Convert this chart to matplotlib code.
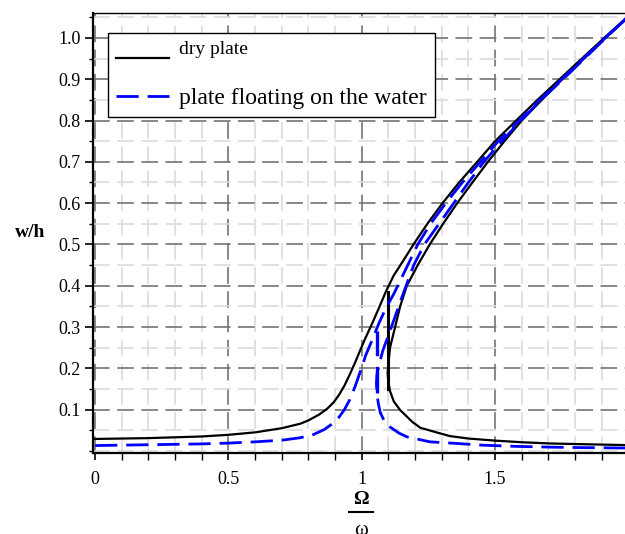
import numpy as np
import matplotlib.pyplot as plt
from matplotlib.lines import Line2D
from matplotlib.ticker import MultipleLocator, FixedLocator

# dry plate: upper (resonant) branch
dry_up_x = [0.0, 0.2, 0.4, 0.5, 0.6, 0.7, 0.77, 0.80, 0.84, 0.87, 0.895, 0.915, 0.935, 0.955,
            0.975, 0.995, 1.015, 1.04, 1.065, 1.09, 1.12, 1.155, 1.194, 1.246, 1.303, 1.365,
            1.433, 1.50, 1.579, 1.659, 1.742, 1.825, 1.909, 2.0]
dry_up_y = [0.029, 0.031, 0.035, 0.039, 0.045, 0.055, 0.066, 0.074, 0.088, 0.102, 0.118, 0.136, 0.158, 0.185,
            0.214, 0.245, 0.275, 0.31, 0.347, 0.385, 0.425, 0.46, 0.50, 0.55, 0.60, 0.65,
            0.70, 0.75, 0.80, 0.85, 0.90, 0.95, 1.00, 1.053]
# dry plate: unstable middle branch + lower branch
dry_lo_x = [2.0, 1.913, 1.833, 1.752, 1.675, 1.60, 1.535, 1.473, 1.415, 1.358, 1.305, 1.255, 1.21,
            1.169, 1.144, 1.125, 1.106, 1.100, 1.097, 1.099, 1.106, 1.12, 1.144, 1.19, 1.22,
            1.28, 1.33, 1.40, 1.50, 1.60, 1.71, 1.85, 2.0]
dry_lo_y = [1.05, 1.00, 0.95, 0.90, 0.85, 0.80, 0.75, 0.70, 0.65, 0.60, 0.55, 0.50, 0.45,
            0.40, 0.35, 0.30, 0.25, 0.21, 0.19, 0.17, 0.145, 0.12, 0.099, 0.07, 0.056,
            0.045, 0.036, 0.030, 0.025, 0.021, 0.018, 0.016, 0.014]
dry_jump_x = [1.097, 1.097]
dry_jump_y = [0.15, 0.385]

# plate floating on the water
wet_up_x = [0.0, 0.2, 0.4, 0.5, 0.6, 0.7, 0.77, 0.82, 0.86, 0.89, 0.915, 0.935, 0.955, 0.975,
            0.995, 1.015, 1.04, 1.065, 1.09, 1.12, 1.15, 1.18, 1.21, 1.258, 1.315, 1.377,
            1.445, 1.512, 1.59, 1.668, 1.75, 1.831, 1.913, 1.996]
wet_up_y = [0.013, 0.015, 0.017, 0.019, 0.022, 0.026, 0.032, 0.040, 0.052, 0.066, 0.082, 0.100, 0.124, 0.156,
            0.193, 0.232, 0.27, 0.31, 0.345, 0.38, 0.42, 0.46, 0.50, 0.55, 0.60, 0.65,
            0.70, 0.75, 0.80, 0.85, 0.90, 0.95, 1.00, 1.05]
wet_lo_x = [1.996, 1.915, 1.835, 1.755, 1.672, 1.597, 1.525, 1.458, 1.40, 1.345, 1.29, 1.235, 1.195,
            1.156, 1.125, 1.10, 1.08, 1.065, 1.057, 1.055, 1.057, 1.062, 1.07, 1.085, 1.106,
            1.14, 1.17, 1.256, 1.36, 1.45, 1.58, 1.72, 1.83, 2.0]
wet_lo_y = [1.05, 1.00, 0.95, 0.90, 0.85, 0.80, 0.75, 0.70, 0.65, 0.60, 0.55, 0.50, 0.45,
            0.382, 0.325, 0.28, 0.245, 0.21, 0.185, 0.165, 0.14, 0.115, 0.092, 0.072, 0.058,
            0.043, 0.034, 0.022, 0.018, 0.014, 0.011, 0.009, 0.008, 0.007]
wet_jump_x = [1.056, 1.056]
wet_jump_y = [0.14, 0.29]

plt.rcParams['font.family'] = 'Liberation Serif'

fig = plt.figure(figsize=(6.25, 5.34), dpi=100)
ax = fig.add_axes([0.1488, 0.1517, 0.8566, 0.824])

dash = (0, (8, 3.2))
ax.plot(dry_up_x, dry_up_y, color='black', lw=1.6, label='dry plate\n')
ax.plot(dry_lo_x, dry_lo_y, color='black', lw=1.6)
ax.plot(dry_jump_x, dry_jump_y, color='black', lw=2.2)
ax.plot(wet_up_x, wet_up_y, color='#0000ff', lw=2, linestyle=dash, label='plate floating on the water')
ax.plot(wet_lo_x, wet_lo_y, color='#0000ff', lw=2, linestyle=dash)
ax.plot(wet_jump_x, wet_jump_y, color='#0000ff', lw=2.4, linestyle=dash)

ax.set_xlim(-0.008, 2.0)
ax.set_ylim(-0.005, 1.0605)

ax.xaxis.set_major_locator(FixedLocator([0, 0.5, 1, 1.5, 2]))
ax.set_xticklabels(['0', '0.5', '1', '1.5', '2'])
ax.xaxis.set_minor_locator(MultipleLocator(0.1))
yt = [0.1, 0.2, 0.3, 0.4, 0.5, 0.6, 0.7, 0.8, 0.9, 1.0]
ax.yaxis.set_major_locator(FixedLocator(yt))
ax.set_yticklabels(['%.1f' % v for v in yt])
ax.yaxis.set_minor_locator(MultipleLocator(0.05))

ax.grid(which='major', color='0.45', lw=1.2, linestyle=(0, (10, 4.5)))
ax.grid(which='minor', color='0.86', lw=1.2, linestyle=(0, (10, 4.5)))
ax.set_axisbelow(True)

ax.tick_params(which='both', direction='out', labelsize=13, colors='black')
ax.tick_params(axis='x', which='major', length=5, width=1.2, pad=8)
ax.tick_params(axis='x', which='minor', length=5, width=1)
ax.tick_params(axis='y', which='major', length=6, width=1.2, pad=3)
ax.tick_params(axis='y', which='minor', length=3, width=1)

ax.spines['left'].set_linewidth(1.6)
ax.spines['bottom'].set_linewidth(1.6)
ax.spines['top'].set_linewidth(1.0)
ax.spines['right'].set_visible(False)

ax.set_ylabel('w/h', rotation=0, fontsize=14, fontweight='bold', va='center')
ax.yaxis.set_label_coords(-0.118, 0.5)

# x label: Omega over omega, drawn as a fraction
ax.set_xlabel('Ω', fontsize=14, fontweight='bold', va='top')
ax.xaxis.set_label_coords(0.5, -0.087)
fig.add_artist(Line2D([349 / 625, 373 / 625], [1 - 512 / 534] * 2, color='black', lw=1.5))
fig.text(361 / 625, -0.001, 'ω', fontsize=15, ha='center', va='baseline')

leg = ax.legend(loc='upper left', bbox_to_anchor=(0.028, 0.9545), fancybox=False,
                edgecolor='black', framealpha=1, fontsize=17, handlelength=2.25,
                labelspacing=0.4, borderpad=0.35, handletextpad=0.4, borderaxespad=0)
leg.get_frame().set_linewidth(1.0)
leg.get_texts()[0].set_fontsize(14)

fig.text(-0.005, 1.008, '9.', fontsize=14, va='center')

fig.savefig('out.png', dpi=100)
